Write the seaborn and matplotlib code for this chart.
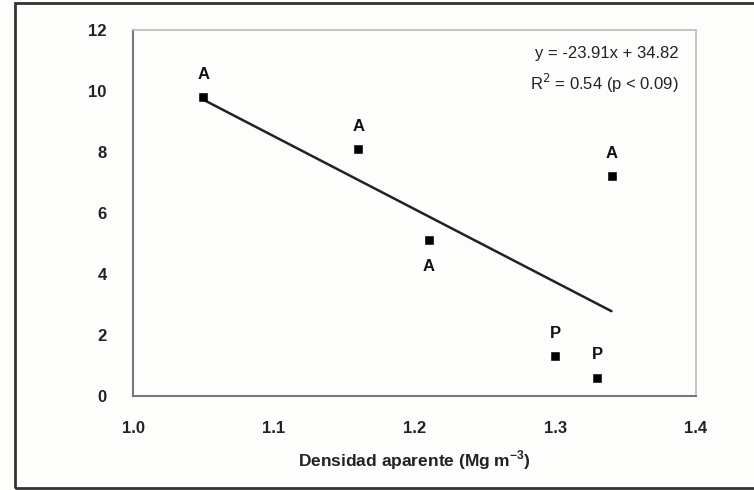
import numpy as np
import pandas as pd
import matplotlib.pyplot as plt
import seaborn as sns
from matplotlib.patches import Rectangle

# Datos
densidad = [1.05, 1.16, 1.21, 1.34, 1.30, 1.33]
valor = [9.8, 8.1, 5.1, 7.2, 1.3, 0.6]
etiqueta = ["A", "A", "A", "A", "P", "P"]
posicion = ["arriba", "arriba", "abajo", "arriba", "arriba", "arriba"]

pendiente = -23.91
intercepto = 34.82
x_recta = [1.05, 1.34]

df = pd.DataFrame({"densidad": densidad, "valor": valor,
                   "etiqueta": etiqueta, "posicion": posicion})
recta = pd.DataFrame({"x": x_recta})
recta["y"] = pendiente * recta["x"] + intercepto

sns.set_style("white")
plt.rcParams["font.family"] = ["Liberation Sans", "DejaVu Sans"]

fig = plt.figure(figsize=(7.54, 4.9), dpi=100)
fig.patch.set_facecolor("#fdfdfb")
ax = fig.add_axes([0.1764, 0.1918, 0.7466, 0.747])
ax.set_facecolor("#fdfdfb")

# marco exterior
fig.patches.append(Rectangle((15 / 754, 2 / 490), 1.0, 485 / 490, transform=fig.transFigure,
                             fill=False, edgecolor="#333333", linewidth=2, clip_on=False))

sns.lineplot(data=recta, x="x", y="y", color="#222222", linewidth=1.8, ax=ax)
sns.scatterplot(data=df, x="densidad", y="valor", marker="s", s=28, color="black",
                edgecolor="black", ax=ax, zorder=3)

for _, fila in df.iterrows():
    dy = 0.75 if fila["posicion"] == "arriba" else -0.85
    ax.text(fila["densidad"], fila["valor"] + dy, fila["etiqueta"], ha="center", va="center",
            fontsize=12, fontweight="bold", color="#111111")

ax.text(0.97, 0.935, "y = -23.91x + 34.82", transform=ax.transAxes, ha="right", va="center",
        fontsize=12, color="#222222")
ax.text(0.97, 0.855, "R$^2$ = 0.54 (p < 0.09)", transform=ax.transAxes, ha="right", va="center",
        fontsize=12, color="#222222")

ax.set_xlim(1.0, 1.4)
ax.set_ylim(0, 12)
ax.set_xticks([1.0, 1.1, 1.2, 1.3, 1.4])
ax.set_xticklabels(["1.0", "1.1", "1.2", "1.3", "1.4"])
ax.set_yticks([0, 2, 4, 6, 8, 10, 12])
ax.tick_params(axis="both", direction="out", length=5, width=1, color="#888888",
               labelsize=12)
ax.tick_params(axis="x", pad=13)
ax.tick_params(axis="y", pad=14)
for lab in ax.get_xticklabels() + ax.get_yticklabels():
    lab.set_fontweight("bold")
    lab.set_color("#222222")

for lado in ["left", "bottom"]:
    ax.spines[lado].set_color("#777777")
    ax.spines[lado].set_linewidth(1.5)
for lado in ["top", "right"]:
    ax.spines[lado].set_color("#bbbbbb")
    ax.spines[lado].set_linewidth(1.2)

ax.set_xlabel("Densidad aparente (Mg m$^{\\mathregular{-3}}$)", fontsize=12.5, fontweight="bold",
              color="#222222", labelpad=9)
ax.set_ylabel("")

fig.savefig("out.png", dpi=100, facecolor=fig.get_facecolor())
